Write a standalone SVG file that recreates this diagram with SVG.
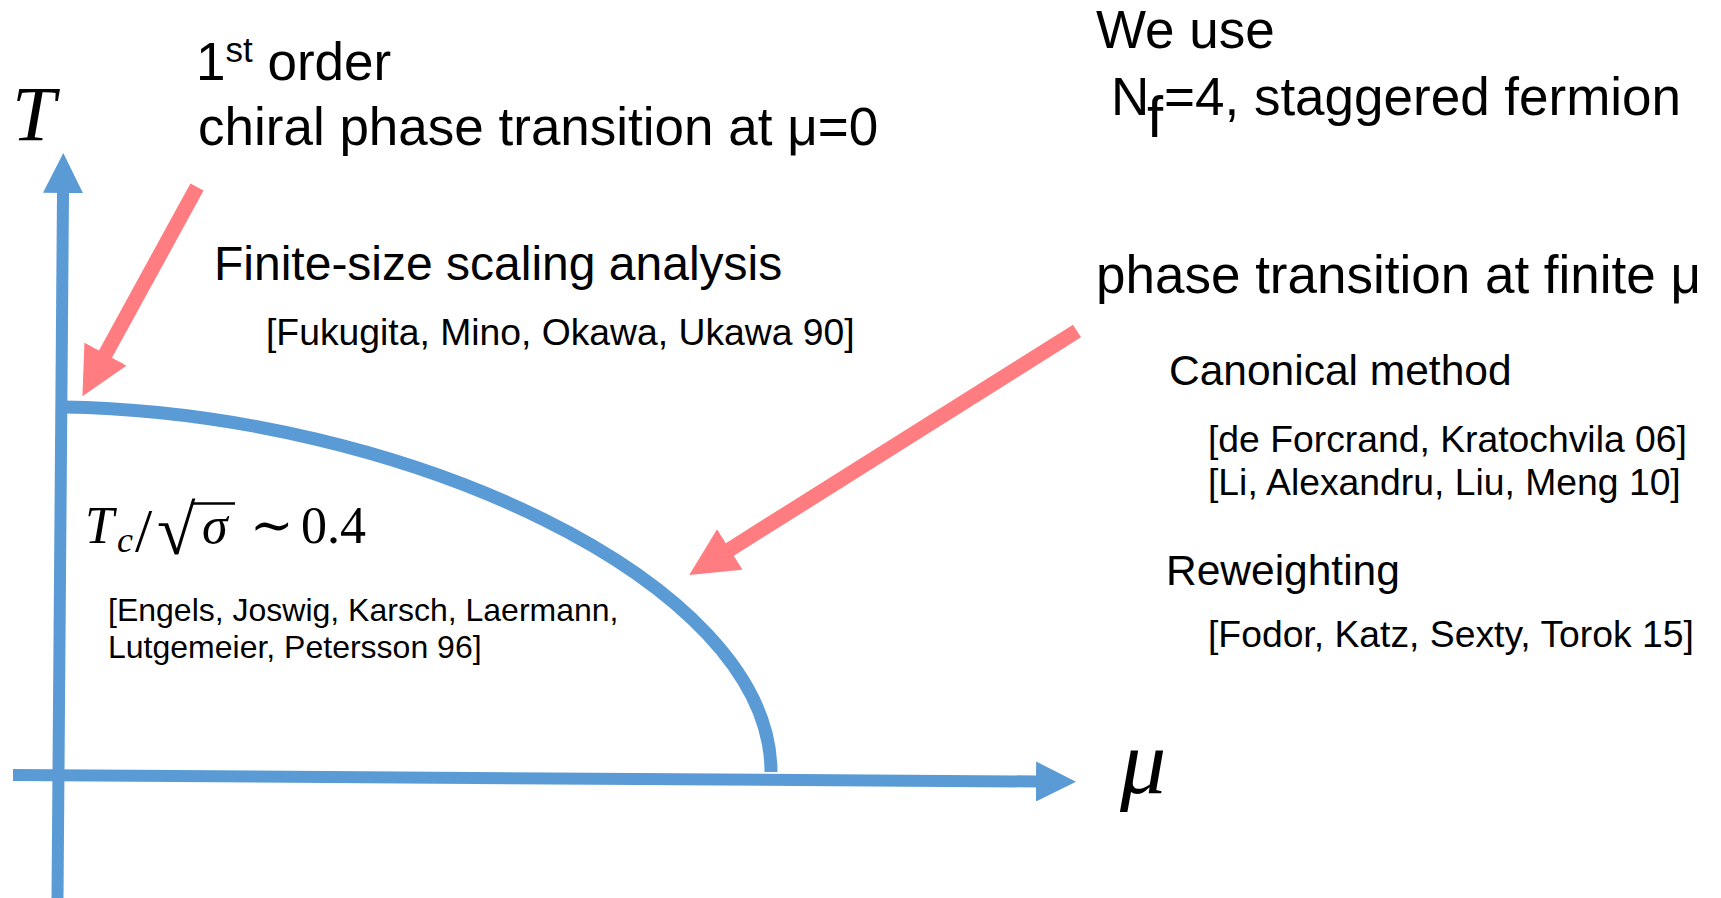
<svg xmlns="http://www.w3.org/2000/svg" width="1721" height="898" viewBox="0 0 1721 898">
  <style>
    .sans { font-family: "Liberation Sans", Arial, sans-serif; fill: #000; }
    .big { font-size: 53px; }
    .mid { font-size: 48px; }
    .sub { font-size: 42.5px; }
    .ref { font-size: 37.3px; }
    .small { font-size: 32px; }
    .math { font-family: "Liberation Serif", "DejaVu Serif", serif; fill: #000; }
    .it { font-style: italic; }
    .axis { fill: none; stroke: #5B9BD5; stroke-width: 12; }
    .boundary { fill: none; stroke: #5B9BD5; stroke-width: 13; }
    .pointer { fill: none; stroke: #FF7C80; stroke-width: 15; }
  </style>
  <defs>
    <marker id="blueHead" markerUnits="userSpaceOnUse" viewBox="0 0 40 40" markerWidth="40" markerHeight="40" refX="1" refY="20" orient="auto">
      <path d="M0,0 L40,20 L0,40 Z" fill="#5B9BD5"/>
    </marker>
    <marker id="redHead" markerUnits="userSpaceOnUse" viewBox="0 0 48 48" markerWidth="48" markerHeight="48" refX="1" refY="24" orient="auto">
      <path d="M0,0 L48,24 L0,48 Z" fill="#FF7C80"/>
    </marker>
  </defs>

  <rect width="1721" height="898" fill="#fff"/>

  <!-- axes, phase boundary and pointers -->
  <g id="connectors">
    <line id="axis-T" class="axis" x1="57.5" y1="898" x2="63" y2="192" marker-end="url(#blueHead)"/>
    <line id="axis-mu" class="axis" x1="13" y1="775" x2="1037" y2="781.5" marker-end="url(#blueHead)"/>
    <path id="phase-boundary" class="boundary" d="M63,407 C400,412 771,580 771,772"/>
    <line id="pointer-mu0" class="pointer" x1="197" y1="187" x2="105" y2="355" marker-end="url(#redHead)"/>
    <line id="pointer-finite-mu" class="pointer" x1="1077" y1="331" x2="729" y2="550" marker-end="url(#redHead)"/>
  </g>

  <!-- axis labels -->
  <g id="label-T">
    <text class="math it" x="12" y="140" font-size="78">T</text>
  </g>
  <g id="label-mu">
    <text class="math it" x="1120" y="793" font-size="92">μ</text>
  </g>

  <!-- first-order transition at zero density -->
  <g id="node-first-order">
    <text class="sans big" x="196" y="80">1<tspan font-size="35" dy="-18">st</tspan><tspan dy="18"> order</tspan></text>
    <text class="sans big" x="198" y="145">chiral phase transition at μ=0</text>
  </g>

  <g id="node-fss">
    <text class="sans mid" x="214" y="280">Finite-size scaling analysis</text>
    <text class="sans ref" x="266" y="345">[Fukugita, Mino, Okawa, Ukawa 90]</text>
  </g>

  <!-- critical temperature -->
  <g id="node-tc">
    <text class="math" y="543" font-size="52"><tspan class="it" x="85">T</tspan><tspan class="it" x="117" dy="9" font-size="36">c</tspan><tspan x="135" dy="-1" font-size="62">/</tspan><tspan x="157" dy="3" font-size="70">√</tspan><tspan class="it" x="202" dy="-11">σ</tspan><tspan x="250">∼</tspan><tspan x="301">0.4</tspan></text>
    <line x1="191" y1="503.5" x2="235" y2="503.5" stroke="#000" stroke-width="2.5"/>
    <text class="sans small" x="108" y="621">[Engels, Joswig, Karsch, Laermann,</text>
    <text class="sans small" x="108" y="658">Lutgemeier, Petersson 96]</text>
  </g>

  <!-- simulation setup -->
  <g id="node-setup">
    <text class="sans big" x="1096" y="48">We use</text>
    <text class="sans big" x="1111" y="115">N<tspan font-size="58" x="1147" dy="22">f</tspan><tspan x="1164" dy="-22">=4, staggered fermion</tspan></text>
  </g>

  <!-- finite density methods -->
  <g id="node-finite-mu">
    <text class="sans big" x="1096" y="293">phase transition at finite μ</text>
    <text class="sans sub" x="1169" y="385">Canonical method</text>
    <text class="sans ref" x="1208" y="452">[de Forcrand, Kratochvila 06]</text>
    <text class="sans ref" x="1208" y="495">[Li, Alexandru, Liu, Meng 10]</text>
    <text class="sans sub" x="1166" y="585">Reweighting</text>
    <text class="sans ref" x="1208" y="647">[Fodor, Katz, Sexty, Torok 15]</text>
  </g>
</svg>
